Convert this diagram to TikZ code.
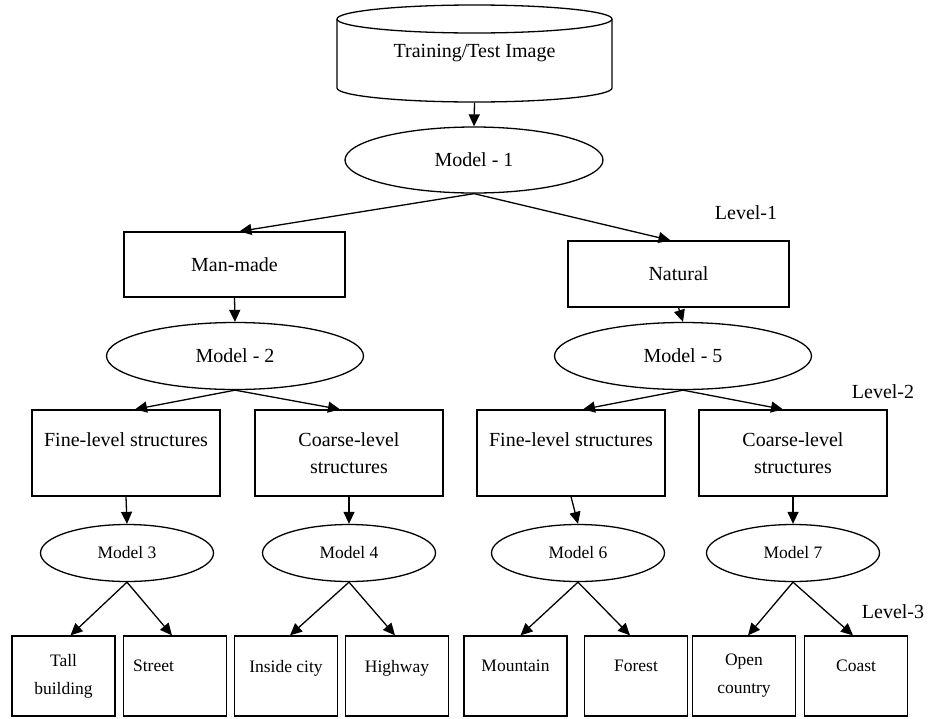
\documentclass[tikz,border=0pt]{standalone}
\usepackage{fontspec}
\setmainfont{Liberation Serif}
\usetikzlibrary{shapes.geometric,arrows.meta,calc}
\begin{document}
\begin{tikzpicture}[x=1pt,y=-1pt,
 line width=1.3pt,
 big/.style={font=\fontsize{20}{27}\selectfont},
 small/.style={font=\fontsize{17.5}{20}\selectfont},
 twol/.style={font=\fontsize{17.5}{28}\selectfont},
 box/.style={draw, rectangle, inner sep=0pt, align=center},
 oval/.style={draw, ellipse, inner sep=0pt},
 leaf/.style={box, minimum width=103pt, minimum height=80pt},
 mid/.style={box, big, minimum width=188pt, minimum height=86pt},
 smalloval/.style={oval, small, minimum width=173pt, minimum height=57pt},
 bigoval/.style={oval, big, minimum width=257pt, minimum height=67pt},
 arr/.style={-{Triangle[length=12pt,width=11pt]}},
 lvl/.style={font=\fontsize{20}{24}\selectfont, inner sep=0pt}
]
\useasboundingbox (0,0) rectangle (928,718);

% cylinder
\node[big, minimum width=275pt, minimum height=97pt, inner sep=0pt] (cyl) at (474.5,53.5) {Training/Test Image};
\draw (474.5,19) ellipse [x radius=137.5pt, y radius=14pt];
\draw (337,19) -- (337,88) .. controls (337,95.7) and (398.6,102) .. (474.5,102)
      .. controls (550.4,102) and (612,95.7) .. (612,88) -- (612,19);

\node[bigoval, minimum width=258pt, minimum height=66pt] (m1) at (474,160) {Model - 1};

\node[box, big, minimum width=221pt, minimum height=65pt] (man) at (234.5,264.5) {Man-made};
\node[box, big, minimum width=221pt, minimum height=66pt] (nat) at (678.5,274) {Natural};

\node[bigoval] (m2) at (235,356) {Model - 2};
\node[bigoval] (m5) at (683,356) {Model - 5};

\node[mid] (fl) at (126,453) {Fine-level structures\\ \mbox{}};
\node[mid] (cl) at (349,453) {Coarse-level\\ structures};
\node[mid] (fr) at (571,453) {Fine-level structures\\ \mbox{}};
\node[mid] (cr) at (793,453) {Coarse-level\\ structures};

\node[smalloval] (m3) at (127,553) {Model 3};
\node[smalloval] (m4) at (349,553) {Model 4};
\node[smalloval] (m6) at (578,553) {Model 6};
\node[smalloval] (m7) at (793,553) {Model 7};

\node[leaf, twol] (tall) at (63.5,676) {Tall\\ building};
\node[leaf, small] (street) at (175,676) {Street\hspace*{43pt}\\ \mbox{}};
\node[leaf, small] (inside) at (286,676) {Inside city\\ \mbox{}};
\node[leaf, small] (high) at (397,676) {Highway\\ \mbox{}};
\node[leaf, small] (mount) at (515.5,676) {Mountain\\ \mbox{}};
\node[leaf, small] (forest) at (636,676) {Forest\\ \mbox{}};
\node[leaf, twol] (open) at (744,676) {Open\\ country};
\node[leaf, small] (coast) at (856,676) {Coast\\ \mbox{}};

\node[lvl] (l1) at (746,213) {Level-1};
\node[lvl] (l2) at (883,392) {Level-2};
\node[lvl] (l3) at (893,612) {Level-3};

% connectors
\draw[arr] (cyl.south) -- (m1.north);
\draw[arr] (m1.south) -- ($(man.north)+(5,0)$);
\draw[arr] (m1.south) -- ($(nat.north)+(-8,0)$);
\draw[arr] (man.south) -- (m2.north);
\draw[arr] (nat.south) -- (m5.north);
\draw[arr] (m2.south) -- ($(fl.north)+(9,0)$);
\draw[arr] (m2.south) -- ($(cl.north)+(-9,0)$);
\draw[arr] (m5.south) -- ($(fr.north)+(12,0)$);
\draw[arr] (m5.south) -- ($(cr.north)+(-10,0)$);
\draw[arr] (fl.south) -- (m3.north);
\draw[arr] (cl.south) -- (m4.north);
\draw[arr] (fr.south) -- (m6.north);
\draw[arr] (cr.south) -- (m7.north);
\draw[arr] (m3.south) -- ($(tall.north)+(7,0)$);
\draw[arr] (m3.south) -- ($(street.north)+(-3,0)$);
\draw[arr] (m4.south) -- ($(inside.north)+(4,0)$);
\draw[arr] (m4.south) -- ($(high.north)+(-2,0)$);
\draw[arr] (m6.south) -- ($(mount.north)+(5,0)$);
\draw[arr] (m6.south) -- ($(forest.north)+(-6,0)$);
\draw[arr] (m7.south) -- ($(open.north)+(4,0)$);
\draw[arr] (m7.south) -- ($(coast.north)+(-3,0)$);
\end{tikzpicture}
\end{document}
